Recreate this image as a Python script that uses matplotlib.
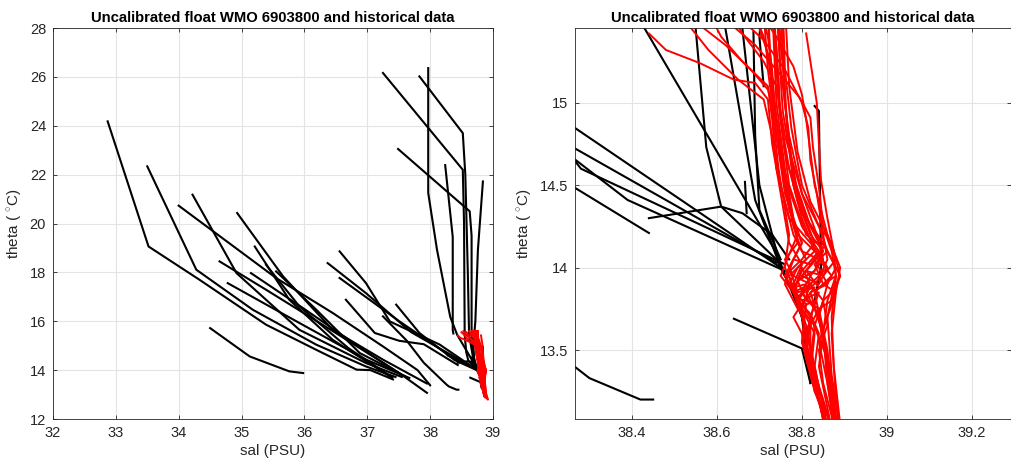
#!/usr/bin/env python3
# -*- coding: utf-8 -*-

"""
Theta-S diagram of an uncalibrated Argo float against historical profiles.
Left panel: full range, right panel: zoom on the deep water.
"""

import matplotlib
matplotlib.use('Agg')
from matplotlib import pyplot as plt

# DATA ########################################################################

TITLE = 'Uncalibrated float WMO 6903800 and historical data'

# historical profiles (black), one list per profile
HIST_SAL = [
    [32.87, 33.52, 34.33, 35.39, 36.19, 36.83, 37.05, 37.41],
    [33.50, 34.28, 35.18, 36.19, 36.98, 37.45],
    [34.00, 35.55, 36.45, 37.25, 37.80, 38.00],
    [34.22, 34.92, 35.92, 36.98, 37.55],
    [34.93, 35.66, 36.45, 37.25, 37.95],
    [34.65, 35.39, 36.45, 37.51, 37.95],
    [34.78, 35.92, 36.98, 37.67],
    [35.21, 35.76, 36.45, 37.36],
    [35.39, 35.92, 36.70, 37.40],
    [35.55, 36.19, 36.88, 37.60],
    [35.15, 36.00, 36.90, 37.55],
    [34.50, 35.13, 35.76, 35.98],
    [36.56, 36.98, 37.36, 38.15, 38.75],
    [36.37, 36.98, 37.70, 38.74],
    [36.56, 37.51, 38.25, 38.28, 38.76],
    [37.46, 37.83, 38.39, 38.76],
    [36.66, 37.12, 37.51, 37.90, 38.44],
    [38.44, 38.61, 38.66, 38.73, 38.77],
    [38.64, 38.80, 38.82],
    [37.25, 37.63, 37.90, 38.265, 38.30, 38.42, 38.45],
    [37.97, 37.97, 38.11, 38.32, 38.43, 38.74, 38.80, 38.82],
    [37.25, 38.52, 38.54, 38.55, 38.575, 38.61, 38.74, 38.78],
    [37.83, 38.52, 38.56, 38.60, 38.62, 38.69, 38.75, 38.79, 38.81],
    [37.49, 38.63, 38.66, 38.66, 38.70, 38.75],
    [38.24, 38.36, 38.36, 38.37],
    [38.84, 38.76, 38.72, 38.70, 38.71],
    [38.83, 38.84, 38.845, 38.83],
    [38.686, 38.69, 38.70, 38.75],
    [38.666, 38.67],
]
HIST_THETA = [
    [24.18, 19.06, 17.70, 15.86, 14.83, 14.02, 14.00, 13.62],
    [22.34, 18.11, 16.47, 15.04, 14.15, 13.72],
    [20.73, 17.77, 16.34, 14.97, 14.00, 13.38],
    [21.18, 17.97, 15.65, 14.29, 13.72],
    [20.43, 17.84, 15.65, 14.43, 13.45],
    [18.45, 17.29, 15.60, 13.88, 13.07],
    [17.56, 15.93, 14.43, 13.68],
    [19.06, 16.88, 15.24, 13.74],
    [18.31, 16.61, 14.90, 13.70],
    [18.04, 16.47, 14.70, 13.75],
    [17.97, 16.50, 14.90, 13.80],
    [15.72, 14.56, 13.95, 13.88],
    [18.86, 17.56, 15.99, 15.05, 14.00],
    [18.38, 17.15, 15.55, 14.03],
    [17.77, 16.00, 14.70, 14.60, 14.02],
    [16.68, 15.52, 14.41, 13.98],
    [16.88, 15.52, 15.20, 15.06, 14.21],
    [14.30, 14.37, 14.33, 14.20, 14.05],
    [13.69, 13.51, 13.30],
    [16.20, 15.20, 14.30, 13.40, 13.33, 13.20, 13.20],
    [26.36, 21.25, 18.92, 16.18, 15.45, 14.09, 13.70, 13.30],
    [26.16, 22.20, 20.00, 15.45, 14.73, 14.37, 14.05, 13.85],
    [26.02, 23.70, 22.00, 18.00, 15.45, 14.41, 14.00, 13.80, 13.60],
    [23.05, 20.50, 19.50, 15.45, 14.50, 14.00],
    [22.39, 19.45, 15.64, 15.50],
    [21.72, 18.90, 16.00, 15.40, 15.10],
    [14.98, 14.95, 14.00, 13.80],
    [15.43, 14.80, 14.35, 14.05],
    [14.52, 14.33],
]

# float profiles (red)
FLOAT_SAL = [
    [38.44, 38.48, 38.56, 38.64, 38.69, 38.72, 38.73, 38.75, 38.77, 38.80, 38.78, 38.80, 38.81, 38.84, 38.86, 38.90],
    [38.50, 38.54, 38.58, 38.65, 38.71, 38.73, 38.75, 38.78, 38.81, 38.77, 38.79, 38.83, 38.82, 38.85, 38.89],
    [38.53, 38.57, 38.62, 38.68, 38.72, 38.745, 38.76, 38.80, 38.84, 38.80, 38.78, 38.82, 38.86, 38.87, 38.88],
    [38.58, 38.61, 38.66, 38.70, 38.72, 38.73, 38.74, 38.77, 38.83, 38.86, 38.82, 38.80, 38.81, 38.83, 38.89],
    [38.66, 38.70, 38.72, 38.73, 38.74, 38.76, 38.78, 38.80, 38.84, 38.87, 38.83, 38.85, 38.86, 38.88],
    [38.70, 38.72, 38.73, 38.735, 38.75, 38.77, 38.79, 38.76, 38.78, 38.82, 38.79, 38.81, 38.83, 38.85, 38.87],
    [38.72, 38.735, 38.74, 38.745, 38.76, 38.79, 38.82, 38.85, 38.81, 38.84, 38.88, 38.86, 38.87, 38.89],
    [38.73, 38.74, 38.745, 38.75, 38.77, 38.80, 38.83, 38.80, 38.76, 38.79, 38.81, 38.80, 38.83, 38.875],
    [38.74, 38.745, 38.75, 38.755, 38.78, 38.81, 38.85, 38.88, 38.86, 38.82, 38.85, 38.87, 38.88],
    [38.745, 38.75, 38.76, 38.765, 38.78, 38.80, 38.83, 38.79, 38.77, 38.80, 38.84, 38.82, 38.82, 38.85, 38.885],
    [38.75, 38.755, 38.76, 38.77, 38.79, 38.82, 38.86, 38.89, 38.87, 38.84, 38.86, 38.875, 38.89],
    [38.64, 38.69, 38.74, 38.795, 38.82, 38.826, 38.84, 38.85, 38.87, 38.88, 38.86, 38.85, 38.865, 38.88, 38.89],
    [38.66, 38.71, 38.76, 38.80, 38.815, 38.82, 38.835, 38.85, 38.86, 38.84, 38.81, 38.84, 38.86, 38.87, 38.88],
    [38.70, 38.74, 38.78, 38.80, 38.81, 38.82, 38.83, 38.86, 38.89, 38.88, 38.87, 38.88, 38.90],
    [38.81, 38.82, 38.835, 38.84, 38.845, 38.86, 38.875, 38.88, 38.87, 38.875, 38.89, 38.92],
    [38.72, 38.73, 38.75, 38.77, 38.80, 38.78, 38.76, 38.79, 38.82, 38.80, 38.78, 38.80, 38.82, 38.84, 38.87],
    [38.71, 38.72, 38.74, 38.76, 38.79, 38.83, 38.86, 38.84, 38.80, 38.83, 38.86, 38.84, 38.86, 38.88],
    [38.735, 38.74, 38.75, 38.77, 38.81, 38.85, 38.82, 38.78, 38.76, 38.79, 38.83, 38.81, 38.84, 38.88],
    [38.73, 38.74, 38.76, 38.78, 38.80, 38.77, 38.79, 38.83, 38.80, 38.78, 38.80, 38.81, 38.83, 38.85, 38.86],
    [38.75, 38.76, 38.78, 38.82, 38.85, 38.83, 38.79, 38.81, 38.84, 38.82, 38.81, 38.83, 38.85, 38.87],
    [38.76, 38.77, 38.79, 38.82, 38.86, 38.88, 38.85, 38.81, 38.78, 38.80, 38.82, 38.80, 38.82, 38.84, 38.86],
    [38.74, 38.75, 38.77, 38.80, 38.84, 38.87, 38.89, 38.87, 38.85, 38.86, 38.84, 38.85, 38.87, 38.88],
    [38.72, 38.725, 38.73, 38.745, 38.77, 38.76, 38.78, 38.81, 38.79, 38.82, 38.84, 38.83, 38.85, 38.87],
    [38.755, 38.76, 38.775, 38.80, 38.84, 38.86, 38.83, 38.85, 38.88, 38.86, 38.84, 38.86, 38.88],
    [38.68, 38.71, 38.73, 38.74, 38.76, 38.79, 38.77, 38.75, 38.78, 38.82, 38.85, 38.83, 38.82, 38.84, 38.86],
    [38.62, 38.66, 38.71, 38.74, 38.76, 38.80, 38.835, 38.85, 38.82, 38.80, 38.83, 38.85, 38.84, 38.86, 38.88],
]
FLOAT_THETA = [
    [15.42, 15.32, 15.24, 15.14, 15.12, 15.02, 14.75, 14.45, 14.15, 14.02, 13.90, 13.75, 13.50, 13.20, 13.00, 12.85],
    [15.55, 15.45, 15.32, 15.14, 15.02, 14.80, 14.50, 14.20, 14.05, 13.95, 13.80, 13.60, 13.35, 13.10, 12.90],
    [15.60, 15.45, 15.35, 15.20, 15.08, 14.85, 14.55, 14.25, 14.10, 13.98, 13.85, 13.70, 13.45, 13.15, 12.95],
    [15.55, 15.40, 15.25, 15.15, 15.10, 14.90, 14.60, 14.30, 14.12, 14.00, 13.90, 13.75, 13.55, 13.25, 12.95],
    [15.60, 15.45, 15.30, 15.10, 14.80, 14.50, 14.25, 14.10, 14.05, 13.95, 13.85, 13.60, 13.30, 13.00],
    [15.60, 15.40, 15.20, 15.00, 14.70, 14.40, 14.15, 14.05, 13.95, 13.90, 13.80, 13.65, 13.40, 13.15, 12.95],
    [15.60, 15.45, 15.25, 15.00, 14.70, 14.40, 14.20, 14.10, 13.98, 13.88, 13.95, 13.70, 13.35, 13.00],
    [15.55, 15.35, 15.15, 14.90, 14.60, 14.35, 14.15, 14.05, 13.95, 13.82, 13.78, 13.55, 13.25, 12.95],
    [15.60, 15.40, 15.15, 14.95, 14.55, 14.30, 14.15, 14.00, 13.90, 13.85, 13.60, 13.30, 13.00],
    [15.58, 15.35, 15.10, 14.85, 14.50, 14.30, 14.10, 14.00, 13.90, 13.80, 13.85, 13.70, 13.45, 13.20, 12.90],
    [15.60, 15.30, 15.00, 14.75, 14.45, 14.25, 14.10, 13.95, 13.80, 13.75, 13.50, 13.20, 12.90],
    [15.46, 15.35, 15.20, 15.03, 14.91, 14.73, 14.49, 14.25, 14.10, 13.95, 13.80, 13.60, 13.35, 13.10, 12.90],
    [15.50, 15.38, 15.20, 15.00, 14.85, 14.65, 14.45, 14.20, 14.05, 13.93, 13.85, 13.70, 13.40, 13.15, 12.90],
    [15.55, 15.40, 15.22, 15.05, 14.90, 14.70, 14.50, 14.20, 14.00, 13.85, 13.60, 13.20, 12.85],
    [15.42, 15.25, 15.00, 14.75, 14.53, 14.30, 14.10, 13.95, 13.70, 13.40, 13.05, 12.80],
    [15.50, 15.10, 14.70, 14.35, 14.15, 14.05, 13.95, 13.82, 13.90, 14.00, 13.85, 13.70, 13.50, 13.20, 12.95],
    [15.55, 15.20, 14.80, 14.45, 14.20, 14.10, 14.00, 13.90, 13.95, 14.05, 13.90, 13.70, 13.40, 13.00],
    [15.60, 15.20, 14.90, 14.50, 14.20, 14.12, 14.02, 14.05, 13.90, 13.75, 13.80, 13.55, 13.25, 12.95],
    [15.60, 15.00, 14.60, 14.30, 14.15, 14.00, 13.85, 13.88, 13.78, 13.70, 13.60, 13.45, 13.30, 13.10, 12.95],
    [15.60, 15.00, 14.55, 14.25, 14.10, 13.98, 13.92, 13.80, 13.75, 13.65, 13.50, 13.30, 13.10, 12.90],
    [15.60, 15.10, 14.70, 14.40, 14.20, 14.05, 13.95, 13.98, 13.88, 13.75, 13.68, 13.55, 13.40, 13.20, 12.95],
    [15.60, 15.20, 14.80, 14.45, 14.25, 14.15, 13.95, 13.85, 13.80, 13.65, 13.50, 13.30, 13.10, 12.90],
    [15.60, 15.30, 14.95, 14.60, 14.20, 14.00, 13.88, 13.90, 13.80, 13.72, 13.60, 13.40, 13.15, 12.90],
    [15.60, 15.20, 14.85, 14.50, 14.25, 14.10, 14.02, 13.90, 13.85, 13.70, 13.55, 13.30, 12.95],
    [15.60, 15.40, 15.15, 14.90, 14.50, 14.20, 14.08, 13.95, 13.85, 13.90, 13.80, 13.65, 13.45, 13.20, 12.95],
    [15.60, 15.42, 15.25, 15.10, 14.80, 14.45, 14.20, 14.05, 13.95, 13.85, 13.75, 13.60, 13.40, 13.15, 12.90],
]

LEFT_XTICKS = [32, 33, 34, 35, 36, 37, 38, 39]
LEFT_YTICKS = [12, 14, 16, 18, 20, 22, 24, 26, 28]
RIGHT_XTICKS = [38.4, 38.6, 38.8, 39.0, 39.2]
RIGHT_XLABELS = ['38.4', '38.6', '38.8', '39', '39.2']
RIGHT_YTICKS = [13.5, 14.0, 14.5, 15.0]
RIGHT_YLABELS = ['13.5', '14', '14.5', '15']

AXIS_COLOR = '#262626'
GRID_COLOR = '#e3e3e3'

plt.rcParams['font.family'] = ['Liberation Sans', 'DejaVu Sans']
plt.rcParams['mathtext.fontset'] = 'custom'
plt.rcParams['mathtext.rm'] = 'Liberation Sans'


def draw_panel(ax, xlim, ylim, xticks, xlabels, yticks, ylabels):

    for sal, theta in zip(HIST_SAL, HIST_THETA):
        ax.plot(sal, theta, color='k', lw=1.5, solid_joinstyle='round')
    for sal, theta in zip(FLOAT_SAL, FLOAT_THETA):
        ax.plot(sal, theta, color='#ff0000', lw=1.4, solid_joinstyle='round')

    ax.set_xlim(xlim)
    ax.set_ylim(ylim)
    ax.set_xticks(xticks)
    ax.set_yticks(yticks)
    if xlabels is not None:
        ax.set_xticklabels(xlabels)
    if ylabels is not None:
        ax.set_yticklabels(ylabels)

    ax.grid(True, color=GRID_COLOR, lw=0.8)
    ax.set_axisbelow(True)
    ax.tick_params(direction='in', top=True, right=True, length=3,
                   labelsize=10.5, colors=AXIS_COLOR, width=0.6, pad=5)
    for sp in ax.spines.values():
        sp.set_color(AXIS_COLOR)
        sp.set_linewidth(0.6)

    ax.set_title(TITLE, fontsize=10.7, fontweight='bold', pad=4)
    ax.set_xlabel('sal (PSU)', fontsize=11, color=AXIS_COLOR, labelpad=3)
    ax.set_ylabel(r'theta ( $^{\circ}$C)', fontsize=11, color=AXIS_COLOR,
                  labelpad=4)


# PLOT ########################################################################

fig = plt.figure(figsize=(10.11, 4.70), dpi=100)

ax1 = fig.add_axes([0.0524, 0.1085, 0.4352, 0.8319])
draw_panel(ax1, (32, 39), (12, 28), LEFT_XTICKS, None, LEFT_YTICKS, None)

ax2 = fig.add_axes([0.5687, 0.1085, 0.4313, 0.8319])
draw_panel(ax2, (38.266, 39.292), (13.082, 15.453),
           RIGHT_XTICKS, RIGHT_XLABELS, RIGHT_YTICKS, RIGHT_YLABELS)

fig.savefig('out.png', dpi=100)
